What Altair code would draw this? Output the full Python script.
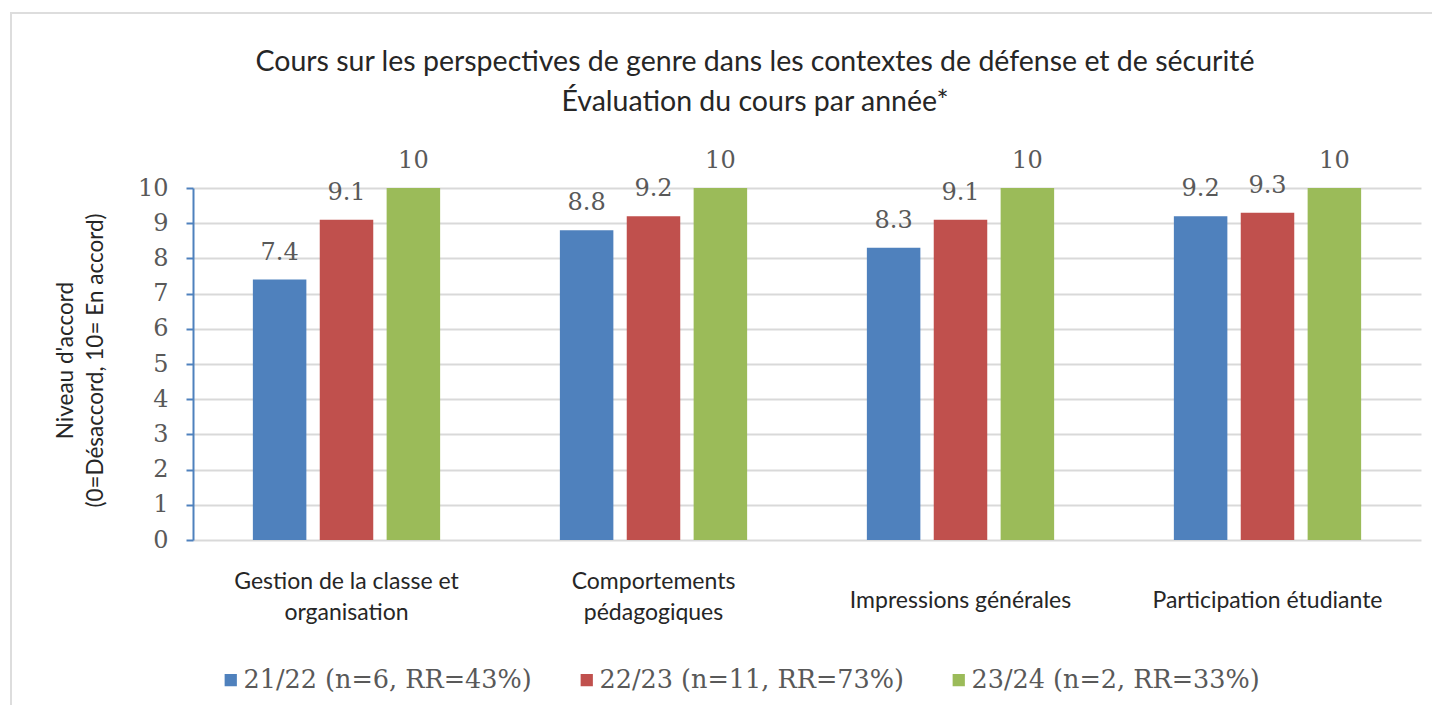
import altair as alt
import pandas as pd

categories = [
    "Gestion de la classe et organisation",
    "Comportements pédagogiques",
    "Impressions générales",
    "Participation étudiante",
]
label_lines = {
    "Gestion de la classe et organisation": ["Gestion de la classe et", "organisation"],
    "Comportements pédagogiques": ["Comportements", "pédagogiques"],
}
series = ["21/22 (n=6, RR=43%)", "22/23 (n=11, RR=73%)", "23/24 (n=2, RR=33%)"]
values_2122 = [7.4, 8.8, 8.3, 9.2]
values_2223 = [9.1, 9.2, 9.1, 9.3]
values_2324 = [10, 10, 10, 10]
colors = ["#4F81BD", "#C0504D", "#9BBB59"]
y_ticks = [0, 1, 2, 3, 4, 5, 6, 7, 8, 9, 10]
title_lines = [
    "Cours sur les perspectives de genre dans les contextes de défense et de sécurité",
    "Évaluation du cours par année*",
]
y_title = ["Niveau d'accord", "(0=Désaccord, 10= En accord)"]

rows = []
for s, vals in zip(series, [values_2122, values_2223, values_2324]):
    for c, v in zip(categories, vals):
        rows.append({"cat": c, "serie": s, "val": v, "label": f"{v:g}"})
df = pd.DataFrame(rows)

expr = "datum.value"
for k, lines in label_lines.items():
    arr = "[" + ",".join("'" + l + "'" for l in lines) + "]"
    expr = f"datum.value == '{k}' ? {arr} : ({expr})"
multi_test = " || ".join(f"datum.value == '{k}'" for k in label_lines)

x_enc = alt.X(
    "cat:N",
    sort=categories,
    scale=alt.Scale(paddingInner=0.39, paddingOuter=0.195),
    axis=alt.Axis(
        title=None, labelAngle=0, ticks=False, tickSize=0, domain=False,
        labelFont="Lato", labelFontSize=23, labelColor="#262626",
        labelPadding={"condition": {"test": multi_test, "value": 41}, "value": 60},
        labelBaseline="middle", labelLineHeight=31,
        labelLimit=500, labelExpr=expr,
    ),
)
xoff_enc = alt.XOffset("serie:N", sort=series, scale=alt.Scale(paddingInner=0.2, paddingOuter=0))
y_enc = alt.Y(
    "val:Q",
    scale=alt.Scale(domain=[0, 10], nice=False),
    axis=alt.Axis(
        values=y_ticks, title=y_title, titleFont="Lato", titleFontSize=22.5,
        titleFontWeight="normal", titleColor="#262626", titleAngle=-90,
        titleX=-128, titleY=172, titleAlign="center", titleBaseline="middle",
        titleLineHeight=30,
        labelFont="DejaVu Serif", labelFontSize=24, labelColor="#595959", labelPadding=18,
        domainColor="#4F81BD", domainWidth=2, tickColor="#4F81BD", tickWidth=2, tickSize=7,
        gridColor="#D9D9D9", gridWidth=2,
    ),
)
color_enc = alt.Color(
    "serie:N",
    sort=series,
    scale=alt.Scale(domain=series, range=colors),
    legend=alt.Legend(
        title=None, orient="none", direction="horizontal", legendX=25, legendY=479,
        symbolType="square", symbolSize=150, symbolStrokeWidth=0,
        labelFont="DejaVu Serif", labelFontSize=25.5, labelColor="#595959",
        columnPadding=42, labelOffset=0, labelLimit=500, padding=0,
    ),
)

base = alt.Chart(df).encode(x=x_enc, xOffset=xoff_enc, y=y_enc)
bars = base.mark_bar().encode(color=color_enc)
texts = base.mark_text(
    baseline="alphabetic", dy=-20, font="DejaVu Serif", fontSize=24, color="#595959"
).encode(text="label:N")

frame = alt.Chart(pd.DataFrame({"k": [0]})).mark_rect(
    fill="transparent", stroke="#DDDDDD", strokeWidth=2
).encode(x=alt.value(-182), x2=alt.value(1257), y=alt.value(-175), y2=alt.value(532))

chart = alt.layer(frame, bars, texts).properties(
    width=1228,
    height=352,
    title=alt.TitleParams(
        text=title_lines, font="Lato", fontSize=28.5, fontWeight="normal",
        color="#262626", anchor="middle", dx=-52, offset=-104, lineHeight=40,
    ),
    autosize=alt.AutoSizeParams(type="none"),
    padding={"left": 185, "top": 180, "right": 11, "bottom": 165},
).configure_view(strokeWidth=0)

chart.save("out.html", embed_options={"renderer": "svg", "actions": False})
